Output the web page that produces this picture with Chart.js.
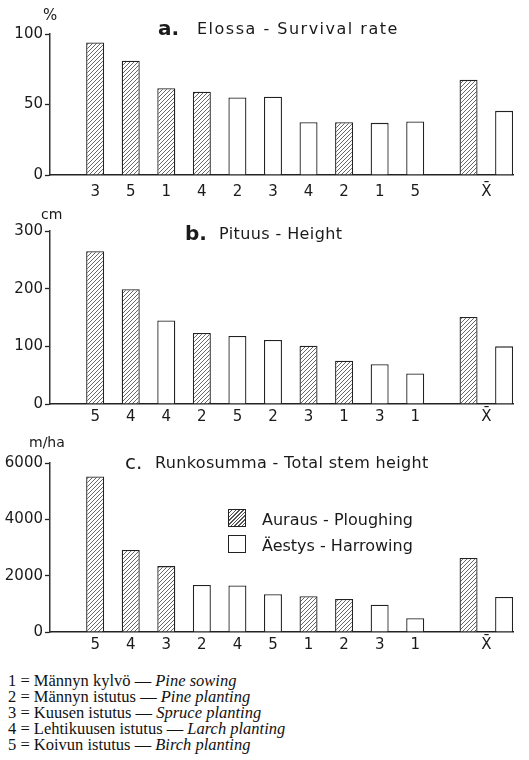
<!DOCTYPE html>
<html>
<head>
<meta charset="utf-8">
<script src="https://cdn.jsdelivr.net/npm/chart.js@4.4.0/dist/chart.umd.min.js"></script>
<style>
  html, body { margin: 0; padding: 0; background: #fff; }
  #page { position: relative; width: 529px; height: 760px; overflow: hidden; font-family: 'DejaVu Sans', sans-serif; color: #1a1a1a; }
  canvas { position: absolute; left: 0; }
  .t { position: absolute; white-space: nowrap; line-height: 1; }
  .sw { position: absolute; width: 16px; height: 16px; border: 1.3px solid #222; background: #fff; }
  .sw.hatch { background: repeating-linear-gradient(-45deg, #fff 0px, #fff 1.6px, #555 1.6px, #555 2.6px); }
  #notes { position: absolute; left: 8px; top: 673px; font-family: 'Liberation Serif', serif; font-size: 16.5px; line-height: 16px; color: #111; white-space: nowrap; }
  #notes i { font-style: italic; }
</style>
</head>
<body>
<div id="page">
  <canvas id="chartA" width="529" height="200" style="top:0px"></canvas>
  <canvas id="chartB" width="529" height="230" style="top:200px"></canvas>
  <canvas id="chartC" width="529" height="230" style="top:430px"></canvas>

  <span class="t" style="left:43px; top:8px; font-size:15px">%</span>
  <span class="t" style="left:158px; top:18px; font-size:20px; font-weight:bold">a.</span>
  <span class="t" style="left:197px; top:21px; font-size:16px; letter-spacing:1.5px">Elossa - Survival rate</span>

  <span class="t" style="left:41px; top:207px; font-size:14px">cm</span>
  <span class="t" style="left:185px; top:223px; font-size:20px; font-weight:bold">b.</span>
  <span class="t" style="left:219px; top:226px; font-size:16px; letter-spacing:0.4px">Pituus - Height</span>

  <span class="t" style="left:29px; top:435px; font-size:14px">m/ha</span>
  <span class="t" style="left:125px; top:452px; font-size:20px">c.</span>
  <span class="t" style="left:155px; top:455px; font-size:16px; letter-spacing:0.35px">Runkosumma - Total stem height</span>

  <div class="sw hatch" style="left:228px; top:509px"></div>
  <span class="t" style="left:262px; top:512px; font-size:16px">Auraus - Ploughing</span>
  <div class="sw" style="left:228px; top:535px"></div>
  <span class="t" style="left:262px; top:538px; font-size:16px">Äestys - Harrowing</span>

  <div id="notes">
    1 = Männyn kylvö — <i>Pine sowing</i><br>
    2 = Männyn istutus — <i>Pine planting</i><br>
    3 = Kuusen istutus — <i>Spruce planting</i><br>
    4 = Lehtikuusen istutus — <i>Larch planting</i><br>
    5 = Koivun istutus — <i>Birch planting</i>
  </div>
</div>

<script>
// a. survival rate, %
const codesA = ['3', '5', '1', '4', '2', '3', '4', '2', '1', '5'];
const survival = [94, 81, 61.5, 59, 55, 55.5, 37.5, 37.5, 37, 38];
const methodA = ['P', 'P', 'P', 'P', 'H', 'H', 'H', 'P', 'H', 'H'];
const survivalMeans = [67.5, 45.5];

// b. height, cm
const codesB = ['5', '4', '4', '2', '5', '2', '3', '1', '3', '1'];
const heightCm = [265, 199, 145, 123, 118, 111, 101, 75, 69, 53];
const methodB = ['P', 'P', 'H', 'P', 'H', 'H', 'P', 'P', 'H', 'H'];
const heightMeans = [151, 100];

// c. total stem height, m/ha
const codesC = ['5', '4', '3', '2', '4', '5', '1', '2', '3', '1'];
const stemHeight = [5520, 2910, 2340, 1670, 1650, 1340, 1270, 1170, 970, 490];
const methodC = ['P', 'P', 'P', 'H', 'H', 'H', 'P', 'P', 'H', 'H'];
const stemMeans = [2630, 1240];

const meanLabel = 'X̄';
const FONT = "'DejaVu Sans', sans-serif";
const INK = '#1a1a1a';

// diagonal hatch for ploughing bars
function makeHatch() {
  const p = document.createElement('canvas');
  p.width = 4; p.height = 4;
  const g = p.getContext('2d');
  g.fillStyle = '#fff';
  g.fillRect(0, 0, 4, 4);
  g.strokeStyle = '#555';
  g.lineWidth = 0.9;
  g.beginPath();
  g.moveTo(0, 4); g.lineTo(4, 0);
  g.moveTo(-1, 1); g.lineTo(1, -1);
  g.moveTo(3, 5); g.lineTo(5, 3);
  g.stroke();
  return g.createPattern(p, 'repeat');
}
const hatch = makeHatch();

function panel(id, codes, vals, method, means, yMax, step, lay) {
  const pts = vals.map((v, i) => ({ x: i + 1, y: v, m: method[i] }));
  const meanAt = codes.length + 1.5;
  const plough = pts.filter(p => p.m === 'P').concat([{ x: meanAt, y: means[0] }]);
  const harrow = pts.filter(p => p.m === 'H').concat([{ x: meanAt + 1, y: means[1] }]);
  const tickPos = codes.map((_, i) => i + 1).concat([meanAt + 0.5]);
  const tickText = codes.concat([meanLabel]);

  const bar = { borderColor: '#222', borderWidth: 1.3, maxBarThickness: 18, grouped: false };

  return new Chart(document.getElementById(id), {
    type: 'bar',
    data: {
      datasets: [
        { ...bar, label: 'Auraus - Ploughing', data: plough, backgroundColor: hatch },
        { ...bar, label: 'Äestys - Harrowing', data: harrow, backgroundColor: '#fff' },
      ],
    },
    options: {
      responsive: false,
      animation: false,
      events: [],
      layout: { padding: { top: lay.top, right: 16, bottom: 0, left: 0 } },
      plugins: { legend: { display: false }, tooltip: { enabled: false } },
      scales: {
        x: {
          type: 'linear', min: -0.27, max: 12.75, offset: false,
          afterFit: s => { s.height = lay.xh; },
          afterBuildTicks: s => { s.ticks = tickPos.map(v => ({ value: v })); },
          ticks: {
            callback: (v, i) => tickText[i],
            autoSkip: false, maxRotation: 0, padding: lay.lp,
            color: INK, font: { family: FONT, size: 15 },
          },
          grid: { display: false, drawTicks: false },
          border: { color: '#222', width: 1.5 },
        },
        y: {
          min: 0, max: yMax,
          afterFit: s => { s.width = 50; },
          ticks: {
            stepSize: step, padding: 2, color: INK, font: { family: FONT, size: 15 },
            callback: v => String(v),
          },
          grid: { drawOnChartArea: false, drawTicks: true, tickLength: 5, tickColor: '#222', tickWidth: 1.3 },
          border: { color: '#333', width: 1.5 },
        },
      },
    },
  });
}

panel('chartA', codesA, survival, methodA, survivalMeans, 100, 50, { top: 34, xh: 25, lp: 8 });
panel('chartB', codesB, heightCm, methodB, heightMeans, 300, 100, { top: 31, xh: 26, lp: 4 });
panel('chartC', codesC, stemHeight, methodC, stemMeans, 6000, 2000, { top: 33, xh: 28, lp: 4 });
</script>
</body>
</html>
